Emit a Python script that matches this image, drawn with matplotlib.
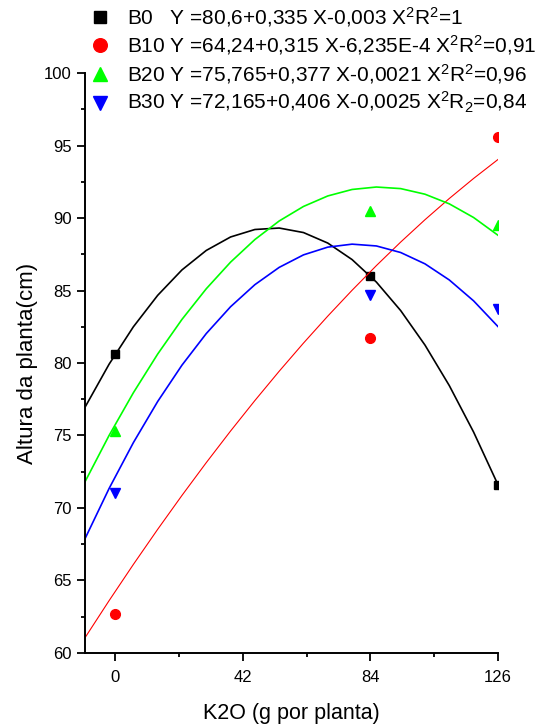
import numpy as np
import matplotlib
matplotlib.use('Agg')
import matplotlib.pyplot as plt
from matplotlib.ticker import MultipleLocator

plt.rcParams['font.family'] = ['Liberation Sans', 'DejaVu Sans']
plt.rcParams['mathtext.default'] = 'regular'

## data
k2o = [0, 84, 126]
b0 = [80.6, 86.0, 71.6]
b10 = [62.7, 81.7, 95.6]
b20 = [75.3, 90.5, 89.5]
b30 = [71.0, 84.7, 83.7]

## regression coefficients (a, b, c) for Y = a + bX + cX^2, as drawn
coef_b0 = [80.6, 0.3357, -0.00323]
coef_b10 = [64.24, 0.315, -6.235e-4]
coef_b20 = [75.765, 0.377, -0.00217]
coef_b30 = [72.165, 0.406, -0.00257]

labels = ['B0   Y =80,6+0,335 X-0,003 X$^2$R$^2$=1',
          'B10 Y =64,24+0,315 X-6,235E-4 X$^2$R$^2$=0,91',
          'B20 Y =75,765+0,377 X-0,0021 X$^2$R$^2$=0,96',
          'B30 Y =72,165+0,406 X-0,0025 X$^2$R$_2$=0,84']
colors = ['black', 'red', '#00ff00', 'blue']
markers = ['s', 'o', '^', 'v']
msizes = [6, 7, 7.5, 7.5]
widths = [1.2, 0.8, 1.2, 1.2]

fig = plt.figure(figsize=(5.4, 7.26), dpi=100)
ax = fig.add_axes([0.157, 0.1006, 0.765, 0.7988])

xx = np.linspace(-10, 126, 18)
series = [b0, b10, b20, b30]
coefs = [coef_b0, coef_b10, coef_b20, coef_b30]
for ys, cf, col, mk, ms, lw, lab in zip(series, coefs, colors, markers, msizes, widths, labels):
    yy = cf[0] + cf[1] * xx + cf[2] * xx ** 2
    ax.plot(xx, yy, color=col, lw=lw)
    ax.plot(k2o, ys, linestyle='none', marker=mk, color=col, markersize=ms,
            label=lab, clip_on=True)

ax.set_xlim(-10, 126)
ax.set_ylim(60, 100)
ax.xaxis.set_major_locator(MultipleLocator(42))
ax.xaxis.set_minor_locator(MultipleLocator(21))
ax.yaxis.set_major_locator(MultipleLocator(5))
ax.yaxis.set_minor_locator(MultipleLocator(2.5))
ax.spines['top'].set_visible(False)
ax.spines['right'].set_visible(False)
ax.spines['left'].set_linewidth(1.4)
ax.spines['bottom'].set_linewidth(1.4)
ax.tick_params(which='major', length=6, width=1.3, labelsize=12)
ax.tick_params(which='minor', length=3, width=1.3)
ax.tick_params(axis='x', which='major', pad=6)
ax.tick_params(axis='y', which='major', pad=3.5)
ax.set_xlabel('K2O (g por planta)', fontsize=15.5, labelpad=13)
ax.set_ylabel('Altura da planta(cm)', fontsize=16, labelpad=4)

leg = ax.legend(loc='upper left', bbox_to_anchor=(0.166, 0.9934),
                bbox_transform=fig.transFigure, frameon=False,
                fontsize=15, handlelength=1.0, handletextpad=0.8,
                labelspacing=0.22, borderpad=0, borderaxespad=0,
                markerscale=1.4)

plt.savefig('out.png', dpi=100)
